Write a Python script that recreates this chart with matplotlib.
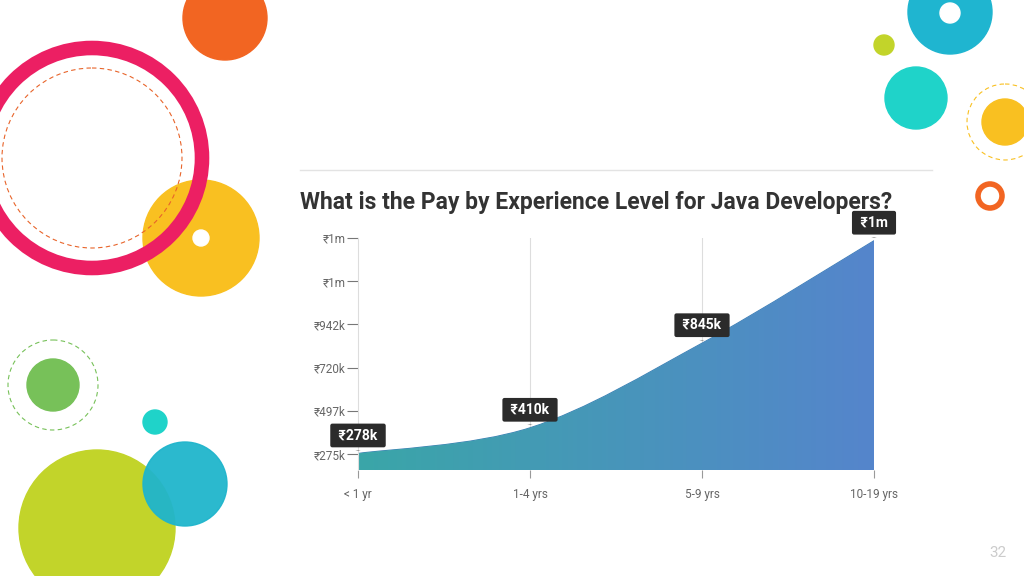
import matplotlib
matplotlib.use("Agg")
import matplotlib.pyplot as plt
import numpy as np
from matplotlib.patches import Circle, PathPatch
from matplotlib.path import Path

plt.rcParams['font.family'] = ['Roboto', 'DejaVu Sans']

levels = ['< 1 yr', '1-4 yrs', '5-9 yrs', '10-19 yrs']
pay_k = [278, 410, 845, 1372]
pay_labels = ['₹278k', '₹410k', '₹845k', '₹1m']
ytick_vals = [275, 497, 720, 942, 1164, 1386]
ytick_labels = ['₹275k', '₹497k', '₹720k', '₹942k', '₹1m', '₹1m']

fig = plt.figure(figsize=(10.24, 5.76), dpi=100)

# decoration layer in pixel coords
bg = fig.add_axes([0, 0, 1, 1])
bg.set_xlim(0, 1024)
bg.set_ylim(576, 0)
bg.axis('off')

def circ(x, y, r, **kw):
    bg.add_patch(Circle((x, y), r, **kw))

circ(225, 18, 42, color='#f26522')
circ(201, 238, 58, color='#f9c021')
circ(201, 238, 8, color='white')
circ(92, 158, 110, fill=False, ec='#ec1f63', lw=10.5)
circ(92, 158, 90, fill=False, ec='#e8642a', lw=0.8, ls=(0, (4, 3)))
circ(53, 385, 26, color='#77c159')
circ(53, 385, 45, fill=False, ec='#77c159', lw=0.8, ls=(0, (4, 3)))
circ(155, 422, 12, color='#1fd3c9')
circ(97, 528, 78, color='#c2d42a')
circ(185, 484, 42, color='#1fb5cc', alpha=0.95)
circ(950, 12, 42, color='#1fb5d0')
circ(950, 13, 10, color='white')
circ(884, 45, 10, color='#c2d42a')
circ(916, 98, 31, color='#1fd3c9')
circ(1005, 122, 23, color='#f9c021')
circ(1005, 122, 38, fill=False, ec='#f9c021', lw=0.8, ls=(0, (4, 3)))
circ(990, 196, 12, fill=False, ec='#f26522', lw=4)
bg.text(998, 553, '32', color='#cccccc', fontsize=11, ha='center', va='center')
bg.plot([300, 932], [170, 170], color='#e3e3e3', lw=1)
bg.text(300, 203, 'What is the Pay by Experience Level for Java Developers?',
        fontsize=16.5, fontweight='bold', color='#333333', va='center')

# chart
W, H = 1024, 576
ax = fig.add_axes([358 / W, 1 - 470 / H, (874 - 358) / W, (470 - 238) / H])
x = np.arange(len(levels))
ax.set_xlim(0, 3)
ax.set_ylim(193, 1386)

# smooth curve through the data (Catmull-Rom -> cubic bezier)
pts = np.column_stack([x, pay_k]).astype(float)
verts = [(0, 193), tuple(pts[0])]
codes = [Path.MOVETO, Path.LINETO]
for i in range(len(pts) - 1):
    p0 = pts[max(i - 1, 0)]
    p1, p2 = pts[i], pts[i + 1]
    p3 = pts[min(i + 2, len(pts) - 1)]
    c1 = p1 + (p2 - p0) / 6
    c2 = p2 - (p3 - p1) / 6
    verts += [tuple(c1), tuple(c2), tuple(p2)]
    codes += [Path.CURVE4] * 3
verts += [(3, 193), (0, 193)]
codes += [Path.LINETO, Path.CLOSEPOLY]
path = Path(verts, codes)
patch = PathPatch(path, fc='none', ec='#3f7fb5', lw=0.8)
ax.add_patch(patch)

cmap = matplotlib.colors.LinearSegmentedColormap.from_list('g', ['#3aa6a8', '#5585cc'])
grad = np.linspace(0, 1, 256).reshape(1, -1)
im = ax.imshow(grad, extent=[0, 3, 193, 1386], aspect='auto', cmap=cmap, zorder=1)
im.set_clip_path(patch)

for xv in [1, 2]:
    ax.axvline(xv, color='#dddddd', lw=0.8, zorder=0)

for s in ['top', 'right', 'bottom']:
    ax.spines[s].set_visible(False)
ax.spines['left'].set_color('#dddddd')
ax.set_yticks(ytick_vals)
ax.set_yticklabels(ytick_labels)
ax.set_xticks(x)
ax.set_xticklabels(levels)
ax.tick_params(axis='y', length=8, color='#777777', labelsize=8.5, labelcolor='#666666', pad=1)
ax.tick_params(axis='x', length=6, color='#999999', labelsize=8.5, labelcolor='#666666', pad=7)

for xi, yi, lab in zip(x, pay_k, pay_labels):
    ax.annotate(' ' + lab + ' ', (xi, yi), xytext=(0, 18), textcoords='offset pixels',
                ha='center', va='center', color='white', fontsize=10, fontweight='bold',
                bbox=dict(boxstyle='round,pad=0.35,rounding_size=0.15', fc='#2b2b2b', ec='none'),
                zorder=5, annotation_clip=False)
    ax.annotate('', (xi, yi), xytext=(0, 6), textcoords='offset pixels',
                arrowprops=dict(arrowstyle='wedge,tail_width=0.4', color='#2b2b2b', lw=0),
                annotation_clip=False)

fig.savefig('out.png', dpi=100)
